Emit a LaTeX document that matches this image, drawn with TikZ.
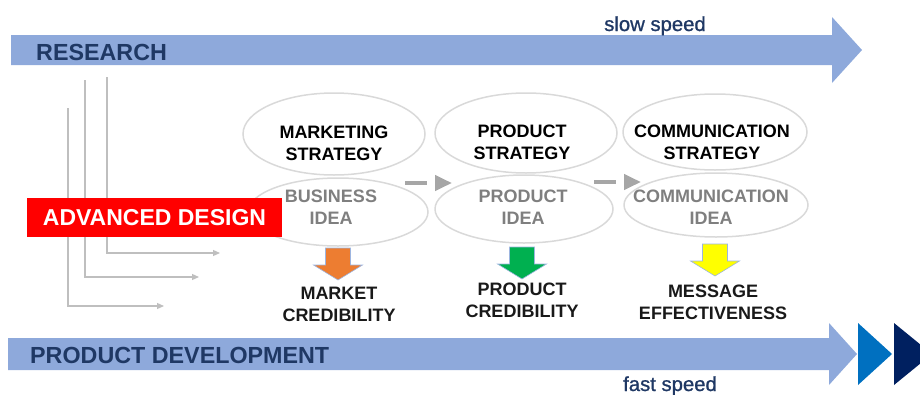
\documentclass[tikz,border=0pt]{standalone}
\usepackage{fontspec}
\setmainfont{Liberation Sans}
\newfontfamily\speedfont{Liberation Sans}[FakeBold=0.9]
\usetikzlibrary{arrows.meta,shapes.geometric}

\definecolor{barblue}{HTML}{8EA9DB}
\definecolor{navytext}{HTML}{1F3864}
\definecolor{linegray}{HTML}{BFBFBF}
\definecolor{ringgray}{HTML}{D9D9D9}
\definecolor{ideagray}{HTML}{7F7F7F}
\definecolor{flowgray}{HTML}{A6A6A6}
\definecolor{mktorange}{HTML}{ED7D31}
\definecolor{prodgreen}{HTML}{00B050}
\definecolor{msgyellow}{HTML}{FFFF00}
\definecolor{midblue}{HTML}{0070C0}
\definecolor{deepnavy}{HTML}{002060}
\definecolor{edgeblue}{HTML}{9DB5E0}

\tikzset{
  ring/.style={ellipse, draw=ringgray, line width=1.5pt, inner sep=0pt},
  capsbold/.style={font=\fontsize{18}{22}\selectfont\bfseries, align=center, inner sep=0pt},
  strategytext/.style={capsbold, text=black},
  ideatext/.style={capsbold, text=ideagray},
  outcometext/.style={capsbold, text=black!90},
  bartext/.style={font=\fontsize{23.3}{23.3}\selectfont\bfseries, text=navytext, inner sep=0pt, anchor=west},
  speedtext/.style={font=\fontsize{20.3}{20.3}\speedfont, text=navytext, inner sep=0pt, anchor=base},
  feed/.style={draw=linegray, line width=1.2pt, -{Triangle[length=7pt,width=6pt]}},
  flow/.style={draw=flowgray, line width=4pt, dash pattern=on 22pt off 60pt,
               -{Triangle[length=17pt,width=15pt]}},
  pics/downblock/.style={code={
    \path[pic actions] (-12.5,0) -- (12.5,0) -- (12.5,17) -- (24.5,17) -- (0,32)
      -- (-24.5,17) -- (-12.5,17) -- cycle;}},
}

\begin{document}
\begin{tikzpicture}[x=1pt, y=-1pt]
  \useasboundingbox (0,0) rectangle (920,394);
  \clip (0,0) rectangle (920,394);

  % research bar (slow) and development bar (fast)
  \fill[barblue] (11,35) -- (832,35) -- (832,17) -- (862,50) -- (832,83)
    -- (832,65) -- (11,65) -- cycle;
  \fill[barblue] (8,338) -- (829,338) -- (829,323) -- (857,354) -- (829,385)
    -- (829,370) -- (8,370) -- cycle;
  \fill[midblue] (858,323) -- (892,354) -- (858,385) -- cycle;
  \fill[deepnavy] (894,323) -- (932,354) -- (894,385) -- cycle;

  \node[bartext] (research) at (36,52) {RESEARCH};
  \node[bartext] (devel) at (30,355) {PRODUCT DEVELOPMENT};
  \node[speedtext] (slow) at (655,31) {slow speed};
  \node[speedtext] (fast) at (670,391) {fast speed};

  % feeds from research down into the design stages
  \coordinate (tapA) at (107,77);
  \coordinate (tapB) at (85,80);
  \coordinate (tapC) at (68,108);
  \coordinate (outA) at (220,253);
  \coordinate (outB) at (199,277);
  \coordinate (outC) at (164,306);
  \draw[feed] (tapA) |- (outA);
  \draw[feed] (tapB) |- (outB);
  \draw[feed] (tapC) |- (outC);

  % strategy and idea rings
  \node[ring, minimum width=182pt, minimum height=82pt] (mkS) at (334,134) {};
  \node[ring, minimum width=180pt, minimum height=68pt] (mkI) at (338,212) {};
  \node[ring, minimum width=182pt, minimum height=80pt] (prS) at (526,133) {};
  \node[ring, minimum width=178pt, minimum height=68pt] (prI) at (524,209) {};
  \node[ring, minimum width=184pt, minimum height=76pt] (coS) at (715,132) {};
  \node[ring, minimum width=184pt, minimum height=64pt] (coI) at (716,205) {};

  \node[strategytext] (mkSt) at (334,143) {MARKETING\\STRATEGY};
  \node[ideatext] (mkIt) at (331,207) {BUSINESS\\IDEA};
  \node[strategytext] (prSt) at (522,142.5) {PRODUCT\\STRATEGY};
  \node[ideatext] (prIt) at (523,207.5) {PRODUCT\\IDEA};
  \node[strategytext] (coSt) at (712,142.5) {COMMUNICATION\\STRATEGY};
  \node[ideatext] (coIt) at (711,207.5) {COMMUNICATION\\IDEA};

  % advanced design banner
  \node[fill=red, minimum width=255pt, minimum height=39pt, inner sep=0pt,
        text=white, font=\fontsize{23}{23}\selectfont\bfseries] (adv)
        at (154.5,217.5) {ADVANCED DESIGN};

  % flow between stages
  \coordinate (flowAs) at (405,183);
  \coordinate (flowAe) at (452,183);
  \coordinate (flowBs) at (594,182);
  \coordinate (flowBe) at (641,182);
  \draw[flow] (flowAs) -- (flowAe);
  \draw[flow] (flowBs) -- (flowBe);

  % outcomes
  \pic[fill=mktorange, draw=edgeblue, line width=0.6pt] (mkArrow) at (338,248) {downblock};
  \pic[fill=prodgreen, draw=edgeblue, line width=0.6pt] (prArrow) at (522,247) {downblock};
  \pic[fill=msgyellow, draw=edgeblue, line width=0.6pt] (coArrow) at (715,244) {downblock};

  \node[outcometext] (mkOut) at (339,304.5) {MARKET\\CREDIBILITY};
  \node[outcometext] (prOut) at (522,300.5) {PRODUCT\\CREDIBILITY};
  \node[outcometext] (coOut) at (713,302.5) {MESSAGE\\EFFECTIVENESS};
\end{tikzpicture}
\end{document}
